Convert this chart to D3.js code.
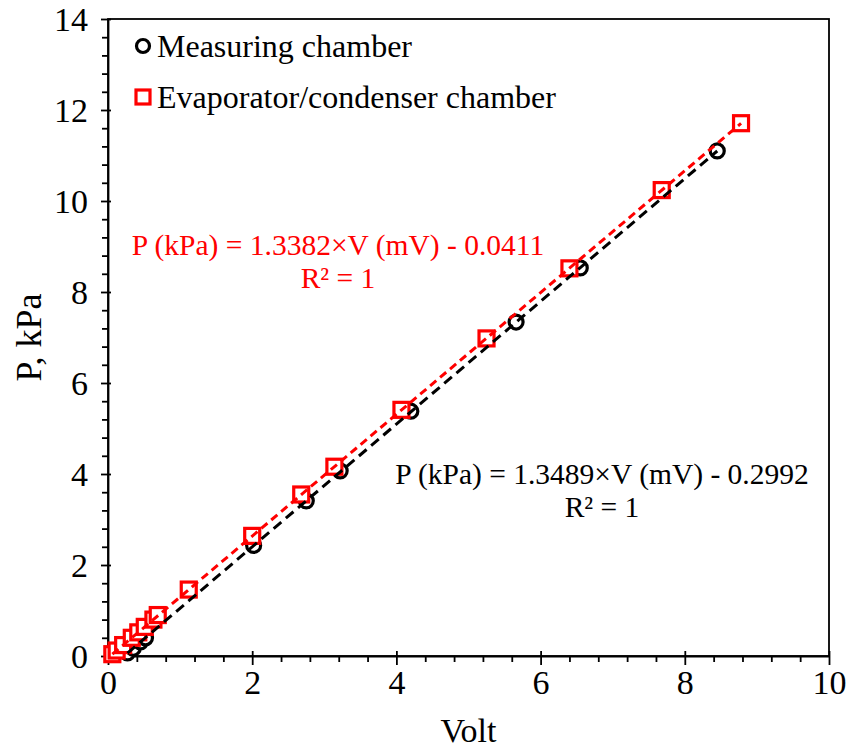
<!DOCTYPE html>
<html>
<head>
<meta charset="utf-8">
<script src="https://cdn.jsdelivr.net/npm/d3@7"></script>
<style>
  body { margin: 0; background: #fff; }
  svg text { font-family: "Liberation Serif", "Times New Roman", serif; }
</style>
</head>
<body>
<div class="chart"></div>
<script>
// measuring chamber (black circles)
const measVolt = [0.27, 0.35, 0.45, 0.52, 2.02, 2.75, 3.22, 4.20, 5.66, 6.55, 8.45];
const measP = [0.07, 0.17, 0.31, 0.40, 2.43, 3.41, 4.07, 5.38, 7.34, 8.53, 11.10];

// evaporator/condenser chamber (red squares)
const evapVolt = [0.06, 0.12, 0.21, 0.33, 0.42, 0.51, 0.63, 0.69, 1.12, 2.00, 2.68, 3.14, 4.07, 5.25, 6.40, 7.68, 8.78];
const evapP = [0.04, 0.12, 0.24, 0.40, 0.52, 0.64, 0.80, 0.90, 1.46, 2.64, 3.55, 4.16, 5.41, 6.98, 8.52, 10.24, 11.71];

// trendline coefficients
const measFit = [1.3489, -0.2992];
const evapFit = [1.3382, -0.0411];

const xTicks = [0, 2, 4, 6, 8, 10];
const yTicks = [0, 2, 4, 6, 8, 10, 12, 14];

const w = 849, h = 749;
const margin = { top: 19, right: 20, bottom: 93, left: 108 };
const font = "Liberation Serif, Times New Roman, serif";

const xScale = d3.scaleLinear().domain([0, 10]).range([margin.left, w - margin.right]);
const yScale = d3.scaleLinear().domain([0, 14]).range([h - margin.bottom, margin.top]);

const svg = d3.select("div.chart")
    .append("svg")
    .attr("width", w)
    .attr("height", h);

// plot frame
svg.append("rect")
    .attr("x", xScale(0))
    .attr("y", yScale(14))
    .attr("width", xScale(10) - xScale(0))
    .attr("height", yScale(0) - yScale(14))
    .attr("fill", "none")
    .attr("stroke", "#000")
    .attr("stroke-width", 1.8);

// minor ticks
const minorX = d3.range(0, 10.01, 0.4).filter(v => Math.abs(v / 2 - Math.round(v / 2)) > 0.01);
const minorY = d3.range(0, 14.01, 0.4).filter(v => Math.abs(v / 2 - Math.round(v / 2)) > 0.01);

svg.append("g")
    .attr("transform", "translate(0," + yScale(0) + ")")
    .call(d3.axisBottom(xScale).tickValues(minorX).tickSize(6).tickFormat(""))
    .call(g => g.select(".domain").remove())
    .selectAll("line").attr("stroke-width", 1.8);

svg.append("g")
    .attr("transform", "translate(" + xScale(0) + ",0)")
    .call(d3.axisLeft(yScale).tickValues(minorY).tickSize(6).tickFormat(""))
    .call(g => g.select(".domain").remove())
    .selectAll("line").attr("stroke-width", 1.8);

// major axes
const xAxis = svg.append("g")
    .attr("id", "x-axis")
    .attr("transform", "translate(0," + yScale(0) + ")")
    .call(d3.axisBottom(xScale).tickValues(xTicks).tickSize(9).tickSizeOuter(0).tickPadding(5));
xAxis.select(".domain").attr("stroke-width", 1.8);
xAxis.selectAll(".tick line").attr("y1", -5).attr("stroke-width", 1.8);
xAxis.selectAll("text").attr("font-size", 34).attr("font-family", font).attr("fill", "#000");

const yAxis = svg.append("g")
    .attr("id", "y-axis")
    .attr("transform", "translate(" + xScale(0) + ",0)")
    .call(d3.axisLeft(yScale).tickValues(yTicks).tickSize(7).tickSizeOuter(0).tickPadding(13));
yAxis.select(".domain").attr("stroke-width", 1.8);
yAxis.selectAll(".tick line").attr("x1", 3).attr("stroke-width", 1.8);
yAxis.selectAll("text").attr("font-size", 34).attr("font-family", font).attr("fill", "#000").attr("dy", "0.35em");

// axis titles
svg.append("text")
    .attr("x", (xScale(0) + xScale(10)) / 2)
    .attr("y", 742)
    .attr("text-anchor", "middle")
    .attr("font-family", font)
    .attr("font-size", 34)
    .text("Volt");

svg.append("text")
    .attr("transform", "translate(41," + yScale(7) + ") rotate(-90)")
    .attr("text-anchor", "middle")
    .attr("font-family", font)
    .attr("font-size", 36)
    .text("P, kPa");

// markers
const measData = measVolt.map((v, i) => [v, measP[i]]);
const evapData = evapVolt.map((v, i) => [v, evapP[i]]);

svg.append("g").selectAll("circle")
    .data(measData)
    .enter()
    .append("circle")
    .attr("cx", d => xScale(d[0]))
    .attr("cy", d => yScale(d[1]))
    .attr("r", 7)
    .attr("fill", "#fff")
    .attr("stroke", "#000")
    .attr("stroke-width", 3.2);

const sq = 15;
svg.append("g").selectAll("rect")
    .data(evapData)
    .enter()
    .append("rect")
    .attr("x", d => xScale(d[0]) - sq / 2)
    .attr("y", d => yScale(d[1]) - sq / 2)
    .attr("width", sq)
    .attr("height", sq)
    .attr("fill", "#fff")
    .attr("stroke", "#ff0000")
    .attr("stroke-width", 3.2);

// trendlines
const trend = (xs, fit) => {
    const ext = d3.extent(xs);
    return ext.map(v => [v, fit[0] * v + fit[1]]);
};
const line = d3.line().x(d => xScale(d[0])).y(d => yScale(d[1]));

svg.append("path")
    .datum(trend(measVolt, measFit))
    .attr("d", line)
    .attr("fill", "none")
    .attr("stroke", "#000")
    .attr("stroke-width", 3)
    .attr("stroke-dasharray", "10,6");

svg.append("path")
    .datum(trend(evapVolt, evapFit))
    .attr("d", line)
    .attr("fill", "none")
    .attr("stroke", "#ff0000")
    .attr("stroke-width", 3)
    .attr("stroke-dasharray", "8,5");

// legend
const legend = svg.append("g");
legend.append("circle")
    .attr("cx", 143).attr("cy", 46).attr("r", 6.5)
    .attr("fill", "#fff").attr("stroke", "#000").attr("stroke-width", 3.2);
legend.append("text")
    .attr("x", 157).attr("y", 57)
    .attr("font-family", font)
    .attr("font-size", 32)
    .text("Measuring chamber");
legend.append("rect")
    .attr("x", 136).attr("y", 90).attr("width", 14).attr("height", 14)
    .attr("fill", "#fff").attr("stroke", "#ff0000").attr("stroke-width", 3.2);
legend.append("text")
    .attr("x", 157).attr("y", 108)
    .attr("font-family", font)
    .attr("font-size", 32)
    .text("Evaporator/condenser chamber");

// equations
const eq1 = svg.append("text")
    .attr("text-anchor", "middle")
    .attr("font-family", font)
    .attr("font-size", 29.5)
    .attr("fill", "#ff0000");
eq1.append("tspan").attr("x", 338).attr("y", 255).text("P (kPa) = 1.3382×V (mV) - 0.0411");
eq1.append("tspan").attr("x", 338).attr("y", 288).text("R² = 1");

const eq2 = svg.append("text")
    .attr("text-anchor", "middle")
    .attr("font-family", font)
    .attr("font-size", 29.5)
    .attr("fill", "#000");
eq2.append("tspan").attr("x", 602).attr("y", 484).text("P (kPa) = 1.3489×V (mV) - 0.2992");
eq2.append("tspan").attr("x", 602).attr("y", 517).text("R² = 1");
</script>
</body>
</html>
